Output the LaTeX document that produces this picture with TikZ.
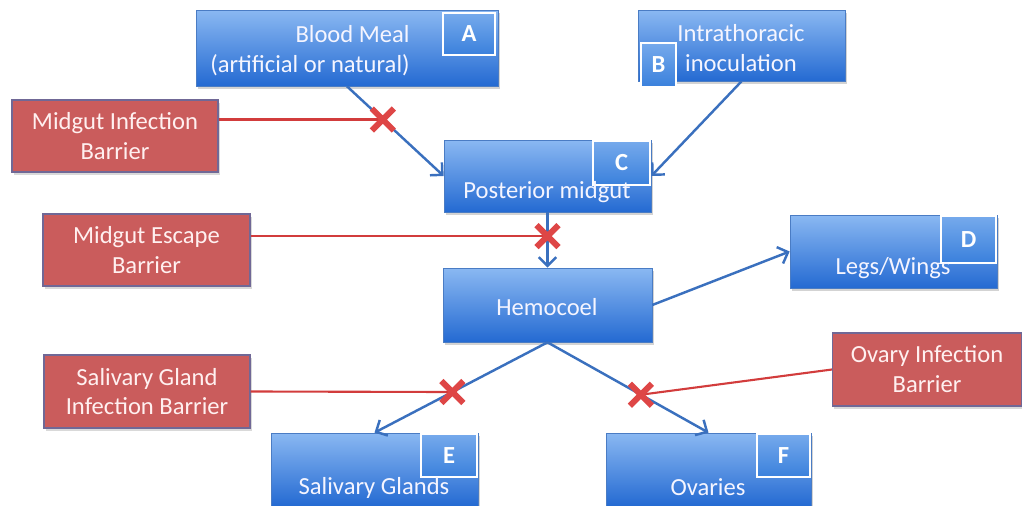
\documentclass[tikz,border=0pt]{standalone}
\usepackage{fontspec}
\setmainfont{Carlito}
\usetikzlibrary{calc,arrows.meta,shadows}

\definecolor{boxtop}{RGB}{138,184,242}
\definecolor{boxbot}{RGB}{36,106,210}
\definecolor{boxline}{RGB}{74,124,196}
\definecolor{tagtop}{RGB}{118,170,236}
\definecolor{tagbot}{RGB}{58,128,220}
\definecolor{barfill}{RGB}{202,92,92}
\definecolor{barline}{RGB}{112,104,150}
\definecolor{flowblue}{RGB}{58,112,190}
\definecolor{barred}{RGB}{210,60,60}
\definecolor{crossred}{RGB}{222,70,70}

\begin{document}
\begin{tikzpicture}[x=0.02cm,y=-0.02cm,
    stage/.style={draw=boxline, line width=0.4pt, top color=boxtop, bottom color=boxbot,
      inner sep=0pt, drop shadow={opacity=0.35, shadow xshift=1pt, shadow yshift=-1.5pt}},
    tag/.style={draw=white, line width=1.5pt, top color=tagtop, bottom color=tagbot,
      inner sep=0pt, text=white, font=\fontsize{14}{16}\selectfont\bfseries},
    txt/.style={text=white!96!blue, font=\fontsize{14}{17}\selectfont, inner sep=0pt},
    barrier/.style={draw=barline, line width=0.6pt, fill=barfill, inner sep=0pt, align=center,
      text=white!94!red, font=\fontsize{14}{17}\selectfont,
      drop shadow={opacity=0.3, shadow xshift=1pt, shadow yshift=-1.5pt}},
    flow/.style={draw=flowblue, line width=1.4pt, -{Straight Barb[length=5pt,width=10pt]}},
    block/.style={draw=barred, line width=1.2pt},
    cross/.style={draw=crossred, line width=3.4pt}]

    \useasboundingbox (0,0) rectangle (1022,506);

    % Entry routes
    \node[stage, minimum width=6.04cm, minimum height=1.52cm] (A) at (347,48) {};
    \node[stage, minimum width=4.14cm, minimum height=1.42cm] (B) at (741.5,45.5) {};
    \node[tag, minimum width=1.04cm, minimum height=0.84cm, anchor=north east] (A-tag) at ($(A.north east)+(-2,2)$) {A};
    \node[tag, minimum width=0.70cm, minimum height=0.88cm, anchor=north west] (B-tag) at ($(B.north west)+(2,32)$) {B};
    \node[txt, anchor=east, align=right] (A-txt) at (410,51) {Blood Meal\\(artificial or natural)};
    \node[txt, align=center] (B-txt) at (741,48) {Intrathoracic\\inoculation};

    % Midgut and hemocoel
    \node[stage, minimum width=4.14cm, minimum height=1.44cm] (C) at (547.5,176) {};
    \node[tag, minimum width=1.14cm, minimum height=0.88cm, anchor=north east] (C-tag) at (C.north east) {C};
    \node[txt] (C-txt) at (547,192) {Posterior midgut};

    \node[stage, minimum width=4.18cm, minimum height=1.48cm] (H) at (547.5,305) {};
    \node[txt] (H-txt) at (547,307) {Hemocoel};

    % Target tissues
    \node[stage, minimum width=4.14cm, minimum height=1.46cm] (D) at (893.5,251.5) {};
    \node[tag, minimum width=1.10cm, minimum height=0.94cm, anchor=north east] (D-tag) at (D.north east) {D};
    \node[txt] (D-txt) at (893,268) {Legs/Wings};

    \node[stage, minimum width=4.14cm, minimum height=1.46cm] (E) at (374.5,469.5) {};
    \node[tag, minimum width=1.12cm, minimum height=0.86cm, anchor=north east] (E-tag) at (E.north east) {E};
    \node[txt] (E-txt) at (374,488) {Salivary Glands};

    \node[stage, minimum width=4.10cm, minimum height=1.46cm] (F) at (708.5,469.5) {};
    \node[tag, minimum width=1.06cm, minimum height=0.86cm, anchor=north east] (F-tag) at (F.north east) {F};
    \node[txt] (F-txt) at (708,487) {Ovaries};

    % Barriers
    \node[barrier, minimum width=4.12cm, minimum height=1.44cm] (mib) at (115,136) {Midgut Infection\\Barrier};
    \node[barrier, minimum width=4.14cm, minimum height=1.44cm] (meb) at (146.5,250) {Midgut Escape\\Barrier};
    \node[barrier, minimum width=4.12cm, minimum height=1.46cm] (sgib) at (147,391.5) {Salivary Gland\\Infection Barrier};
    \node[barrier, minimum width=3.78cm, minimum height=1.46cm] (oib) at (927,369.5) {Ovary Infection\\Barrier};

    % Dissemination
    \draw[flow] (A.south) -- (C.west);
    \draw[flow] (B.south) -- (C.east);
    \draw[flow] (C.south) -- (H.north);
    \draw[flow] (H.east) -- (D.west);
    \draw[flow] (H.south) -- (E.north);
    \draw[flow] (H.south) -- (F.north);

    % Where the barriers act
    \coordinate (xa) at ($(A.south)!0.37!(C.west)$);
    \coordinate (xb) at ($(C.south)!0.43!(H.north)$);
    \coordinate (xc) at ($(H.south)!0.55!(E.north)$);
    \coordinate (xd) at ($(H.south)!0.58!(F.north)$);

    \draw[block] (mib.east |- xa) -- (xa);
    \draw[block] (meb.east |- xb) -- (xb);
    \draw[block] (sgib.east) -- (xc);
    \draw[block] (oib.west) -- (xd);

    \foreach \p in {xa,xb,xc,xd}
        \draw[cross] ($(\p)+(-11,-11)$) -- ($(\p)+(11,11)$) ($(\p)+(-11,11)$) -- ($(\p)+(11,-11)$);

\end{tikzpicture}
\end{document}
